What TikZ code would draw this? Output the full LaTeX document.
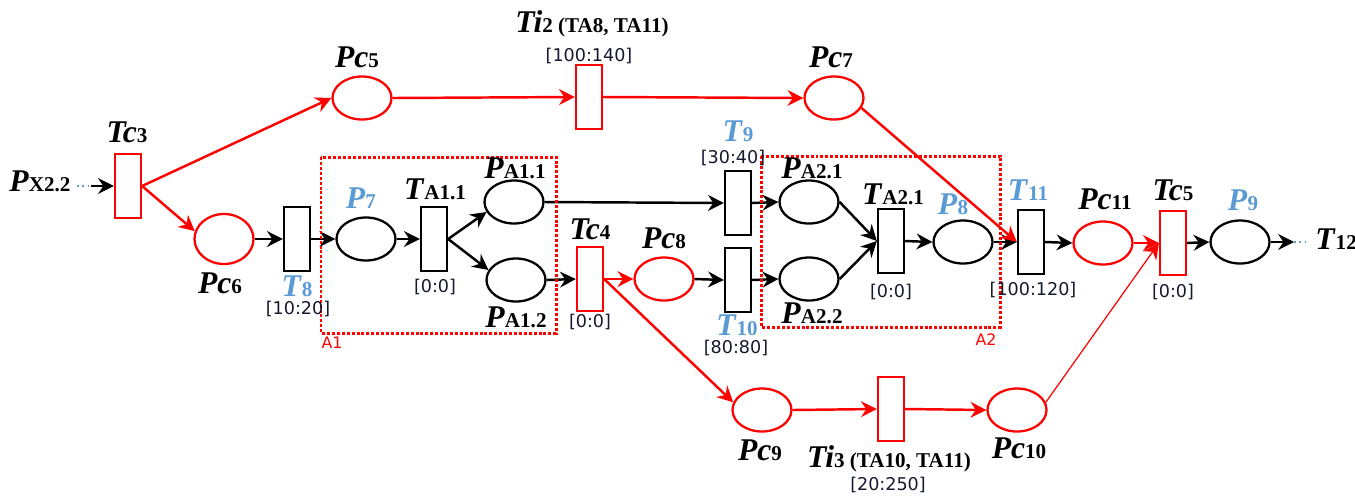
\documentclass[tikz,border=0pt]{standalone}
\usepackage{fontspec}
\setmainfont{Liberation Serif}
\newfontfamily\ivfont{DejaVu Sans}
\usetikzlibrary{arrows.meta,shapes.geometric}
\definecolor{tblue}{RGB}{91,155,213}
\definecolor{ivcol}{RGB}{20,25,45}
\newcommand{\nm}[2]{\textbf{\textit{#1}}{\fontsize{12}{12}\selectfont\textbf{#2}}}
\begin{document}
\begin{tikzpicture}[x=0.02cm,y=-0.02cm,
  place/.style={ellipse,draw,line width=1.3pt,minimum width=1.18cm,minimum height=0.86cm,inner sep=0pt},
  trans/.style={rectangle,draw,line width=1.3pt,minimum width=0.52cm,minimum height=1.28cm,inner sep=0pt},
  arc/.style={-{Stealth[length=9pt,width=9pt,inset=3pt]},line width=1.4pt},
  lbl/.style={anchor=base,inner sep=0pt,font=\fontsize{18}{20}\selectfont},
  iv/.style={inner sep=0pt,text=ivcol,font=\ivfont\fontsize{10}{10}\selectfont},
  area/.style={draw=red,line width=1.7pt,dash pattern=on 1.7pt off 1.1pt},
  alab/.style={inner sep=0pt,text=red,font=\ivfont\fontsize{9}{10}\selectfont}]
\useasboundingbox (0,0) rectangle (1355,495);
\coordinate (pxd) at (77,186);
\coordinate (pxa) at (91,186);
\coordinate (t12a) at (1294,242);
\coordinate (t12b) at (1308,242);
% places
\node [place,draw=red] (pc5) at (362,98) {};
\node [place,draw=red,minimum height=1cm] (pc6) at (224,239) {};
\node [place,draw=red] (pc7) at (834,98) {};
\node [place,draw=red] (pc8) at (664,279) {};
\node [place,draw=red] (pc9) at (762,410) {};
\node [place,draw=red] (pc10) at (1017,410) {};
\node [place,draw=red] (pc11) at (1103,243) {};
\node [place] (p7) at (366,239) {};
\node [place] (pa11) at (514,202) {};
\node [place] (pa12) at (516,280) {};
\node [place] (pa21) at (809,202) {};
\node [place] (pa22) at (809,279) {};
\node [place] (p8) at (963,242) {};
\node [place] (p9) at (1240,242) {};
% transitions
\node [trans,draw=red] (tc3) at (128,186) {};
\node [trans,draw=red] (ti2) at (589,97) {};
\node [trans,draw=red] (tc4) at (590,279) {};
\node [trans,draw=red] (ti3) at (891,409) {};
\node [trans,draw=red] (tc5) at (1173,243) {};
\node [trans] (t8) at (297,239) {};
\node [trans] (ta11) at (434,239) {};
\node [trans] (t9) at (738,203) {};
\node [trans] (t10) at (738,280) {};
\node [trans] (ta21) at (891,241) {};
\node [trans] (t11) at (1031,242) {};
% arcs
\draw [dotted,line width=1pt,tblue] (pxd) -- (pxa);
\draw [arc] (pxa) -- (tc3.west);
\draw [arc,red] (tc3.east) -- (pc5.west);
\draw [arc,red] (tc3.east) -- (pc6.165);
\draw [arc] (pc6.east) -- (t8.west);
\draw [arc] (t8.east) -- (p7.west);
\draw [arc] (p7.east) -- (ta11.west);
\draw [arc] (ta11.east) -- (pa11.200);
\draw [arc] (ta11.east) -- (pa12.160);
\draw [arc] (pa11.east) -- (t9.west);
\draw [arc] (pa12.east) -- (tc4.west);
\draw [arc,red] (tc4.east) -- (pc8.west);
\draw [arc,red] (tc4.east) -- (pc9.165);
\draw [arc] (pc8.east) -- (t10.west);
\draw [arc] (t9.east) -- (pa21.west);
\draw [arc] (t10.east) -- (pa22.west);
\draw [arc] (pa21.east) -- (ta21.west);
\draw [arc] (pa22.east) -- (ta21.west);
\draw [arc] (ta21.east) -- (p8.west);
\draw [arc] (p8.east) -- (t11.west);
\draw [arc,red] (pc5.east) -- (ti2.west);
\draw [arc,red] (ti2.east) -- (pc7.west);
\draw [arc,red] (pc7.340) -- (t11.west);
\draw [arc] (t11.east) -- (pc11.west);
\draw [arc,red] (pc11.east) -- (tc5.west);
\draw [arc,red,line width=0.7pt] (pc10.15) -- (tc5.west);
\draw [arc] (tc5.east) -- (p9.west);
\draw [arc] (p9.east) -- (t12a);
\draw [dotted,line width=1pt,tblue] (t12a) -- (t12b);
\draw [arc,red] (pc9.east) -- (ti3.west);
\draw [arc,red] (ti3.east) -- (pc10.west);
% areas
\draw [area] (321,157) rectangle (556,333);
\draw [area] (761,156) rectangle (1000,327);
\node [alab] (a1l) at (332,343) {A1};
\node [alab] (a2l) at (986,340) {A2};
% labels
\node [lbl,anchor=base west] (pxl) at (9,191) {\nm{P}{X2.2}};
\node [lbl] (tc3l) at (127,142) {\nm{Tc}{3}};
\node [lbl] (pc5l) at (357,67) {\nm{Pc}{5}};
\node [lbl] (pc6l) at (220,293) {\nm{Pc}{6}};
\node [lbl,text=tblue] (t8l) at (297,296) {\nm{T}{8}};
\node [iv] (t8i) at (298,309) {[10:20]};
\node [lbl,text=tblue] (p7l) at (361,208) {\nm{P}{7}};
\node [lbl] (ta11l) at (435,199) {\nm{T}{A1.1}};
\node [iv] (ta11i) at (435,287) {[0:0]};
\node [lbl] (pa11l) at (515,178) {\nm{P}{A1.1}};
\node [lbl] (pa12l) at (516,327) {\nm{P}{A1.2}};
\node [lbl] (tc4l) at (590,239) {\nm{Tc}{4}};
\node [iv] (tc4i) at (590,322) {[0:0]};
\node [lbl] (pc8l) at (664,248) {\nm{Pc}{8}};
\node [lbl,text=tblue] (t9l) at (738,141) {\nm{T}{9}};
\node [iv] (t9i) at (733,158) {[30:40]};
\node [lbl,text=tblue] (t10l) at (737,335) {\nm{T}{10}};
\node [iv] (t10i) at (736,348) {[80:80]};
\node [lbl] (pa21l) at (812,178) {\nm{P}{A2.1}};
\node [lbl] (pa22l) at (812,323) {\nm{P}{A2.2}};
\node [lbl] (ta21l) at (893,204) {\nm{T}{A2.1}};
\node [iv] (ta21i) at (891,292) {[0:0]};
\node [lbl,text=tblue] (p8l) at (953,214) {\nm{P}{8}};
\node [lbl,text=tblue] (t11l) at (1028,200) {\nm{T}{11}};
\node [iv] (t11i) at (1033,290) {[100:120]};
\node [lbl] (pc11l) at (1105,209) {\nm{Pc}{11}};
\node [lbl] (tc5l) at (1173,200) {\nm{Tc}{5}};
\node [iv] (tc5i) at (1173,292) {[0:0]};
\node [lbl,text=tblue] (p9l) at (1243,210) {\nm{P}{9}};
\node [lbl,anchor=base west] (t12l) at (1315,249) {\nm{T}{12}};
\node [lbl] (ti2l) at (592,32) {\nm{Ti}{2 (TA8, TA11)}};
\node [iv] (ti2i) at (589,56) {[100:140]};
\node [lbl] (pc7l) at (831,67) {\nm{Pc}{7}};
\node [lbl] (pc9l) at (760,460) {\nm{Pc}{9}};
\node [lbl] (ti3l) at (889,467) {\nm{Ti}{3 (TA10, TA11)}};
\node [iv] (ti3i) at (888,485) {[20:250]};
\node [lbl] (pc10l) at (1019,458) {\nm{Pc}{10}};
\end{tikzpicture}
\end{document}
